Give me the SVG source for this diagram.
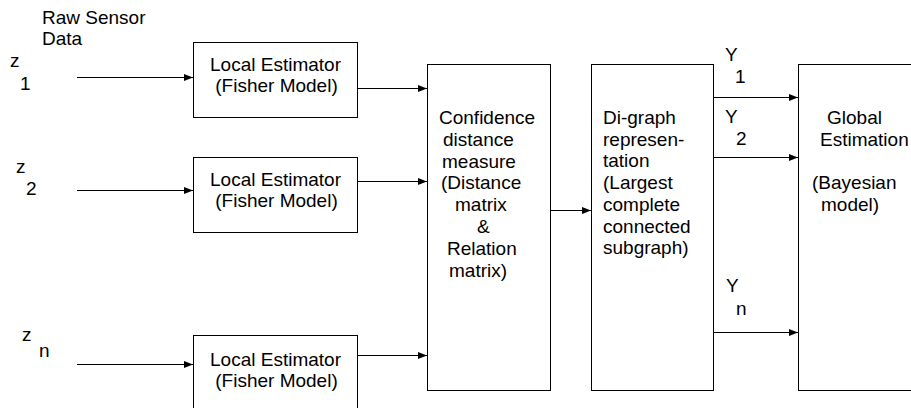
<svg xmlns="http://www.w3.org/2000/svg" width="911" height="408" viewBox="0 0 911 408">
  <style>
    text { font-family: "Liberation Sans", Arial, sans-serif; font-size: 19px; fill: #000; }
    .box { fill: #fff; stroke: #000; stroke-width: 1; }
    .wire { stroke: #000; stroke-width: 1; fill: none; marker-end: url(#arrow); }
    .mid { text-anchor: middle; }
  </style>
  <defs>
    <marker id="arrow" markerUnits="userSpaceOnUse" markerWidth="9" markerHeight="8" refX="9" refY="4" orient="auto">
      <path d="M0,0.5 L9,4 L0,7.5 z" fill="#000"/>
    </marker>
  </defs>

  <rect width="911" height="408" fill="#fff"/>

  <!-- input labels -->
  <g id="inputs">
    <text x="42" y="24">Raw Sensor</text>
    <text x="42" y="45">Data</text>
    <text x="10" y="67">z</text>
    <text x="20" y="90">1</text>
    <text x="16" y="173">z</text>
    <text x="26" y="195">2</text>
    <text x="22" y="341">z</text>
    <text x="39" y="357">n</text>
  </g>

  <g id="local1">
    <rect class="box" x="193.5" y="42.5" width="164" height="75"/>
    <text class="mid" x="275.5" y="70.5">Local Estimator</text>
    <text class="mid" x="276.5" y="92">(Fisher Model)</text>
  </g>

  <g id="local2">
    <rect class="box" x="193.5" y="157.5" width="164" height="75"/>
    <text class="mid" x="275.5" y="185.5">Local Estimator</text>
    <text class="mid" x="276.5" y="207">(Fisher Model)</text>
  </g>

  <g id="localn">
    <rect class="box" x="193.5" y="335.5" width="164" height="80"/>
    <text class="mid" x="275.5" y="365.5">Local Estimator</text>
    <text class="mid" x="276.5" y="387">(Fisher Model)</text>
  </g>

  <g id="confidence">
    <rect class="box" x="427.5" y="64.5" width="123" height="326"/>
    <text x="439" y="124">Confidence</text>
    <text x="443" y="145.8">distance</text>
    <text x="442" y="167.6">measure</text>
    <text x="441" y="189.4">(Distance</text>
    <text x="455" y="211.2">matrix</text>
    <text x="477" y="233">&amp;</text>
    <text x="447" y="254.8">Relation</text>
    <text x="449" y="276.6">matrix)</text>
  </g>

  <g id="digraph">
    <rect class="box" x="591.5" y="64.5" width="122" height="326"/>
    <text x="603" y="124">Di-graph</text>
    <text x="603" y="145.7">represen-</text>
    <text x="603" y="167.4">tation</text>
    <text x="603" y="189.1">(Largest</text>
    <text x="603" y="210.8">complete</text>
    <text x="603" y="232.5">connected</text>
    <text x="603" y="254.2">subgraph)</text>
  </g>

  <g id="global">
    <rect class="box" x="798.5" y="64.5" width="130" height="326"/>
    <text x="827" y="124">Global</text>
    <text x="820" y="145.7">Estimation</text>
    <text x="812" y="189.1">(Bayesian</text>
    <text x="821" y="210.8">model)</text>
  </g>

  <!-- output labels -->
  <g id="outputs">
    <text x="725" y="61">Y</text>
    <text x="735" y="83">1</text>
    <text x="725" y="123">Y</text>
    <text x="736" y="145">2</text>
    <text x="726" y="292">Y</text>
    <text x="736" y="315">n</text>
  </g>

  <g id="connectors">
    <line class="wire" x1="77" y1="77.5" x2="193" y2="77.5"/>
    <line class="wire" x1="77" y1="190.5" x2="193" y2="190.5"/>
    <line class="wire" x1="77" y1="364.5" x2="193" y2="364.5"/>
    <line class="wire" x1="358" y1="88.5" x2="427" y2="88.5"/>
    <line class="wire" x1="358" y1="181.5" x2="427" y2="181.5"/>
    <line class="wire" x1="358" y1="355.5" x2="427" y2="355.5"/>
    <line class="wire" x1="551" y1="210.5" x2="591" y2="210.5"/>
    <line class="wire" x1="714" y1="97.5" x2="798" y2="97.5"/>
    <line class="wire" x1="714" y1="157.5" x2="798" y2="157.5"/>
    <line class="wire" x1="714" y1="332.5" x2="798" y2="332.5"/>
  </g>
</svg>
